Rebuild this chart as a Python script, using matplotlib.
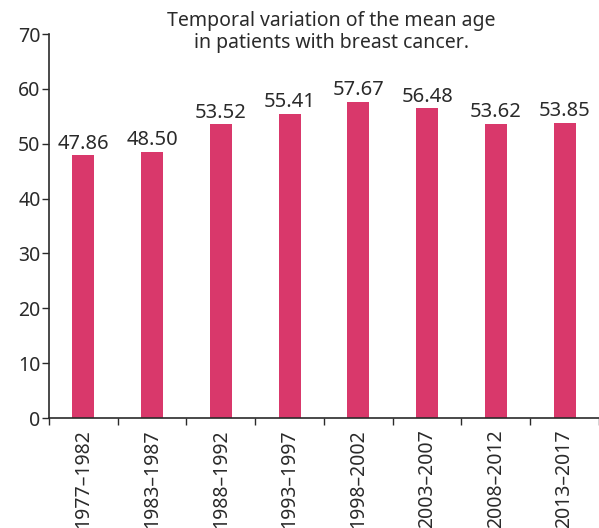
import matplotlib
matplotlib.use("Agg")
import matplotlib.pyplot as plt
import numpy as np

categories = ["1977–1982", "1983–1987", "1988–1992", "1993–1997",
              "1998–2002", "2003–2007", "2008–2012", "2013–2017"]
mean_age = [47.86, 48.50, 53.52, 55.41, 57.67, 56.48, 53.62, 53.85]
value_labels = ["47.86", "48.50", "53.52", "55.41", "57.67", "56.48", "53.62", "53.85"]
yticks = [0, 10, 20, 30, 40, 50, 60, 70]

plt.rcParams['font.family'] = ['Noto Sans', 'DejaVu Sans']
text_color = "#2a2a2a"
bar_color = "#D9386B"

fig = plt.figure(figsize=(5.99, 5.28), dpi=100)
ax = fig.add_axes([0.0818, 0.2083, 0.9182, 0.7273])

x = np.arange(len(categories))
bars = ax.bar(x, mean_age, width=0.32, color=bar_color)
for xi, v, lab in zip(x, mean_age, value_labels):
    ax.text(xi, v + 0.3, lab, ha="center", va="bottom", fontsize=14.5, color=text_color)

ax.set_xlim(-0.5, len(categories) - 0.5)
ax.set_ylim(0, 70)
ax.set_yticks(yticks)
ax.tick_params(axis="y", labelsize=14, labelcolor=text_color, length=5, width=1, color=text_color, pad=1)

ax.set_xticks(np.arange(len(categories) + 1) - 0.5)
ax.set_xticklabels([])
ax.set_xticks(x, minor=True)
ax.set_xticklabels(categories, minor=True, rotation=90, fontsize=14, color=text_color, va="top")
ax.tick_params(axis="x", which="major", length=5, width=1, color=text_color)
ax.tick_params(axis="x", which="minor", length=0, pad=8)

for s in ["top", "right"]:
    ax.spines[s].set_visible(False)
for s in ["left", "bottom"]:
    ax.spines[s].set_color(text_color)
    ax.spines[s].set_linewidth(1.2)

fig.text(0.553, 0.979, "Temporal variation of the mean age\nin patients with breast cancer.",
         ha="center", va="top", fontsize=14, color=text_color, linespacing=1.1)

fig.savefig("out.png", dpi=100)
